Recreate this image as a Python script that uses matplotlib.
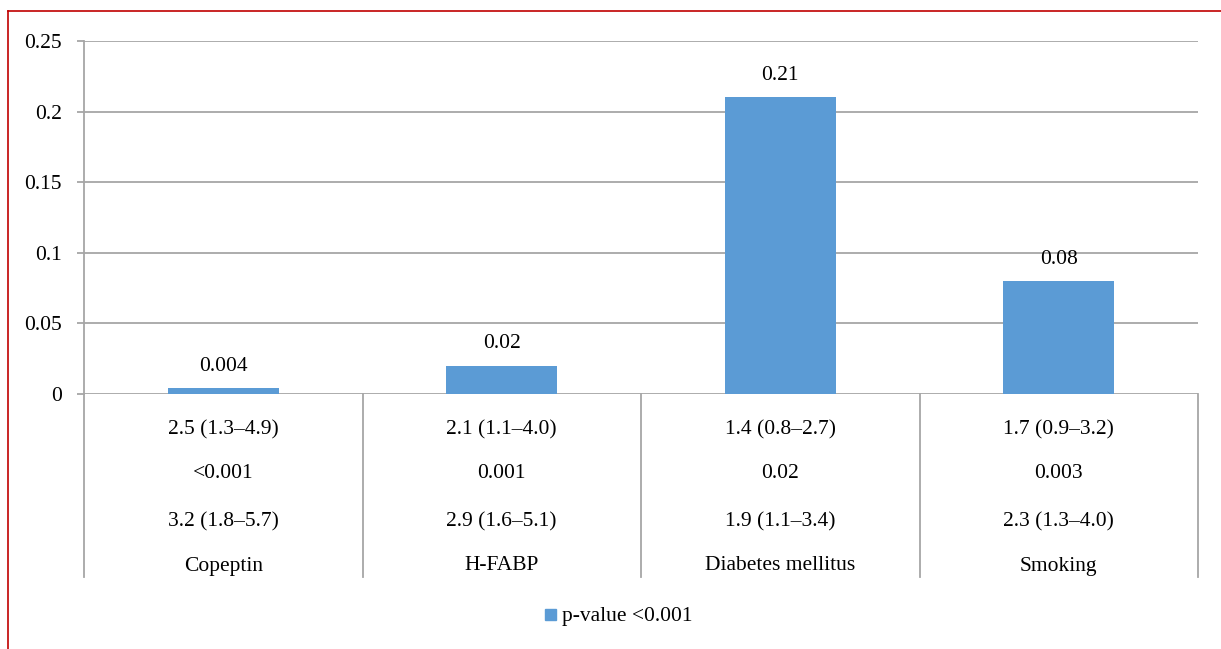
import matplotlib
matplotlib.use("Agg")
import matplotlib.pyplot as plt
from matplotlib.lines import Line2D
import matplotlib.transforms as mtransforms

categories = ["Copeptin", "H-FABP", "Diabetes mellitus", "Smoking"]
values = [0.004, 0.02, 0.21, 0.08]
value_labels = ["0.004", "0.02", "0.21", "0.08"]
row1 = ["2.5 (1.3\u20134.9)", "2.1 (1.1\u20134.0)", "1.4 (0.8\u20132.7)", "1.7 (0.9\u20133.2)"]
row2 = ["<0.001", "0.001", "0.02", "0.003"]
row3 = ["3.2 (1.8\u20135.7)", "2.9 (1.6\u20135.1)", "1.9 (1.1\u20133.4)", "2.3 (1.3\u20134.0)"]
yticks = [0, 0.05, 0.1, 0.15, 0.2, 0.25]
ytick_labels = ["0", "0.05", "0.1", "0.15", "0.2", "0.25"]
series_name = "p-value <0.001"

plt.rcParams['font.family'] = ['Liberation Serif', 'DejaVu Serif']
FS = 15.5
GRID = "#a6a6a6"
BLUE = "#5b9bd5"

fig = plt.figure(figsize=(12.21, 6.49), dpi=100)
W, H = 1221, 649
ax = fig.add_axes([84 / W, 1 - 394 / H, (1198 - 84) / W, (394 - 41) / H])

x = [i + 0.5 for i in range(len(categories))]
ax.bar(x, values, width=0.4, color=BLUE, zorder=3)
for xi, v, lab in zip(x, values, value_labels):
    ax.annotate(lab, (xi, v), xytext=(0, 9), textcoords="offset points",
                ha="center", va="bottom", fontsize=FS)

ax.set_xlim(0, len(categories))
ax.set_ylim(0, 0.25)
ax.set_yticks(yticks)
ax.set_yticklabels(ytick_labels, fontsize=FS)
ax.set_xticks([])
ax.yaxis.grid(True, color=GRID, linewidth=1.3, zorder=0)
ax.tick_params(axis="y", length=5, width=1.3, color=GRID, pad=11)
for s in ["top", "right", "bottom"]:
    ax.spines[s].set_visible(False)
ax.spines["left"].set_color(GRID)
ax.spines["left"].set_linewidth(1.3)

trans = mtransforms.blended_transform_factory(ax.transData, ax.transAxes)
bottom = -(577 - 394) / (394 - 41)
for b in range(len(categories) + 1):
    ax.add_line(Line2D([b, b], [0, bottom], transform=trans, color=GRID,
                       linewidth=1.3, clip_on=False))

rows = [row1, row2, row3, categories]
row_y = [430, 473, 522, 566]
for ry, row in zip(row_y, rows):
    yf = -(ry - 394) / (394 - 41)
    for xi, t in zip(x, row):
        ax.text(xi, yf, t, transform=trans, ha="center", va="center", fontsize=FS)

# legend
fig.patches.append(plt.Rectangle((545 / W, 1 - 620 / H), 11 / W, 11 / H,
                                 transform=fig.transFigure, color=BLUE))
fig.text(562 / W, 1 - 616 / H, series_name, ha="left", va="center", fontsize=FS)

# red border
RED = "#c00000"
fig.add_artist(Line2D([8 / W, 8 / W], [0, 1 - 11 / H], transform=fig.transFigure,
                      color=RED, linewidth=1.2))
fig.add_artist(Line2D([8 / W, 1], [1 - 11 / H, 1 - 11 / H], transform=fig.transFigure,
                      color=RED, linewidth=1.2))

fig.savefig("out.png", dpi=100)
